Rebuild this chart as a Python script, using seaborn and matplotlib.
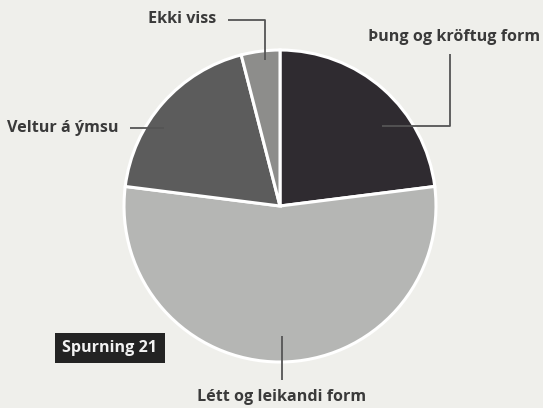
import matplotlib
matplotlib.use("Agg")
import matplotlib.pyplot as plt
import seaborn as sns

# answers to question 21 (percent)
labels = ["Þung og kröftug form", "Létt og leikandi form", "Veltur á ýmsu", "Ekki viss"]
shares = [23, 54, 19, 4]
slice_colors = ["#2f2b30", "#b5b6b4", "#5c5c5c", "#8d8d8b"]
badge_text = "Spurning 21"

W, H = 543, 408
BG = "#efefeb"
TXT = "#3a3a3a"
LINE = "#555555"

sns.set_theme(style="white")
plt.rcParams["font.family"] = ["Open Sans", "DejaVu Sans"]

fig = plt.figure(figsize=(W / 100, H / 100), dpi=100, facecolor=BG)
ax = fig.add_axes([0, 0, 1, 1])
ax.set_facecolor(BG)


def py(y):
    # pixel y (top-down) -> data y
    return H - y


ax.pie(shares, colors=slice_colors, startangle=90, counterclock=False,
       center=(280, py(206)), radius=156,
       wedgeprops=dict(edgecolor="white", linewidth=2.2))
ax.set_xlim(0, W)
ax.set_ylim(0, H)
ax.set_aspect("equal")
ax.axis("off")

# label text position, alignment, leader path (pixel coords)
layout = {
    "Þung og kröftug form": ((540, 37), "right", [(450, 54), (450, 126), (382, 126)]),
    "Létt og leikandi form": ((282, 397), "center", [(282, 380), (282, 336)]),
    "Veltur á ýmsu": ((7, 128), "left", [(130, 128), (164, 128)]),
    "Ekki viss": ((148, 19), "left", [(228, 20), (265, 20), (265, 60)]),
}

for lab in labels:
    (tx, ty), ha, path = layout[lab]
    ax.text(tx, py(ty), lab, ha=ha, va="center", fontsize=11.6,
            fontweight="bold", color=TXT)
    xs = [p[0] for p in path]
    ys = [py(p[1]) for p in path]
    ax.plot(xs, ys, color=LINE, lw=1.3, solid_capstyle="butt")

# dark badge bottom left
ax.text(110, py(348), badge_text, ha="center", va="center", fontsize=11.6,
        fontweight="bold", color="#f2f2f2",
        bbox=dict(boxstyle="square,pad=0.45", facecolor="#232323", edgecolor="none"))

fig.savefig("out.png", dpi=100, facecolor=BG)
